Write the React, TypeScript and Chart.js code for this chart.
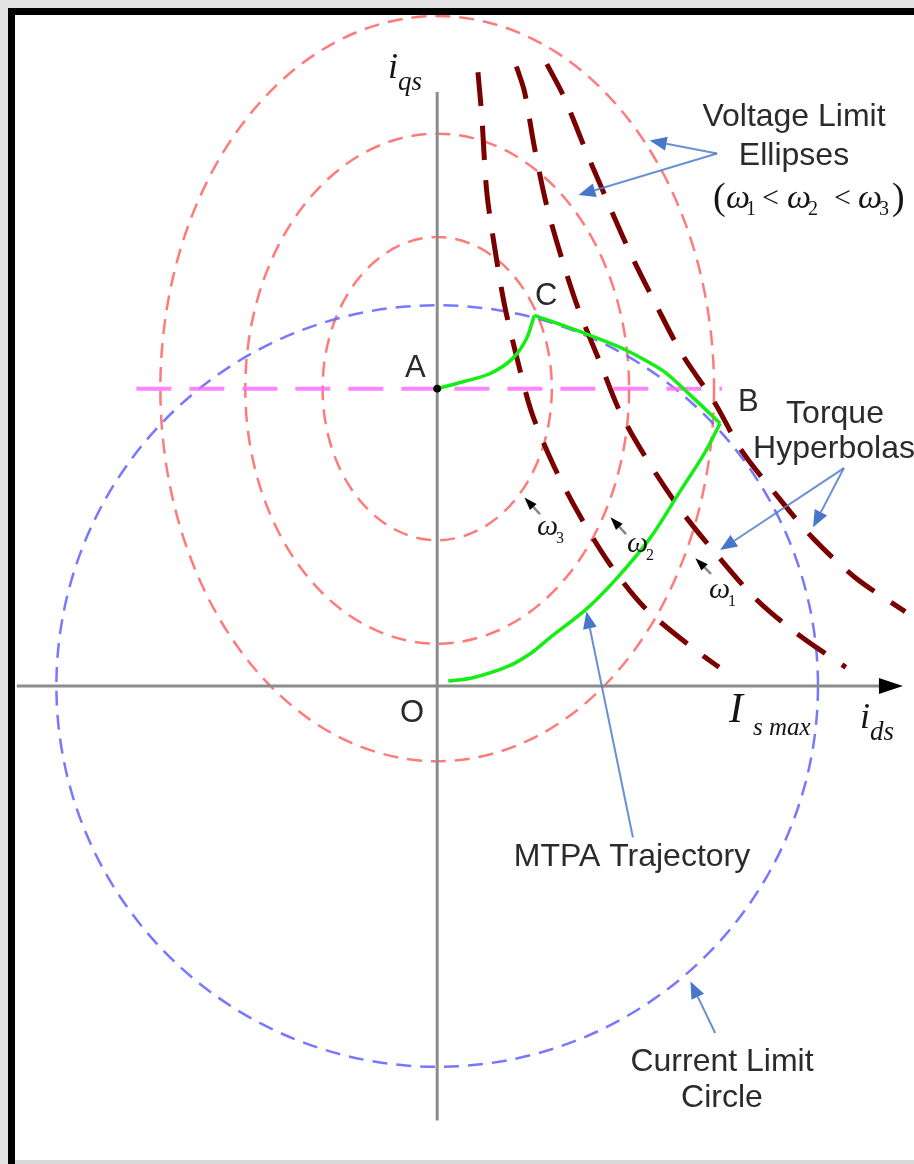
import React, { useEffect, useRef } from 'react';
import { Chart, registerables } from 'chart.js';

Chart.register(...registerables);

// ---------------- Data (units: I_smax = 10) ----------------
const X_MIN = -11.35;
const X_MAX = 12.39;
const Y_MIN = -12.39;
const Y_MAX = 17.84;

// Current limit circle (centred on O)
const CURRENT_LIMIT_RADIUS = 10;

// Voltage limit ellipses, centred on A; order: omega3 (inner), omega2, omega1 (outer)
const ELLIPSE_CENTER_D = 0;
const ELLIPSE_CENTER_Q = 7.79;
const ELLIPSE_SEMI_D = [3.01, 5.04, 7.27];
const ELLIPSE_SEMI_Q = [3.97, 6.68, 9.76];

// Torque hyperbolas
const HYP1_ID = [1.07, 1.17, 1.30, 1.51, 1.77, 2.10, 2.49, 3.06, 3.77, 4.55, 5.45, 6.65, 7.40];
const HYP1_IQ = [16.08, 14.94, 12.96, 11.48, 9.97, 8.57, 7.14, 5.77, 4.42, 3.17, 2.05, 1.04, 0.49];
const HYP2_ID = [2.08, 2.29, 2.55, 2.86, 3.25, 3.71, 4.29, 4.83, 5.58, 6.44, 7.35, 8.39, 9.48, 10.73];
const HYP2_IQ = [16.23, 15.58, 14.13, 12.65, 11.27, 9.87, 8.44, 7.12, 5.82, 4.55, 3.43, 2.26, 1.35, 0.49];
const HYP3_ID = [2.88, 3.33, 3.90, 4.49, 5.09, 5.74, 6.44, 7.27, 8.00, 8.96, 9.87, 10.99, 12.29];
const HYP3_IQ = [16.29, 15.43, 14.03, 12.65, 11.30, 10.00, 8.68, 7.45, 6.16, 4.94, 3.87, 2.83, 1.95];

// MTPA trajectory O -> B
const MTPA_ID = [0.29, 0.91, 1.87, 2.49, 2.94, 3.90, 4.75, 5.61, 6.39, 7.01, 7.43];
const MTPA_IQ = [0.13, 0.21, 0.52, 0.88, 1.25, 2.00, 2.86, 3.90, 5.12, 6.08, 6.88];
// B -> C (along current limit)
const BC_ID = [7.43, 6.83, 5.97, 4.94, 3.79, 2.55];
const BC_IQ = [6.88, 7.45, 8.23, 8.81, 9.27, 9.71];
// C -> A
const CA_ID = [2.55, 2.34, 1.97, 1.38, 0.68, 0];
const CA_IQ = [9.71, 9.09, 8.57, 8.18, 7.97, 7.79];

// Horizontal line through A
const AH_ID = [-7.90, 7.48];
const AH_IQ = [7.79, 7.79];

// Axes
const AXIS_Q_ID = [0, 0];
const AXIS_Q_IQ = [15.56, -11.38];
const AXIS_D_ID = [-11.04, 11.7];
const AXIS_D_IQ = [0, 0];
const AXIS_D_TIP = 12.23;

// Point A
const POINT_A_ID = [0];
const POINT_A_IQ = [7.79];

// Annotation pointers: [tailD, tailQ, headD, headQ]
const VOLTAGE_POINTERS = [
  [7.35, 13.95, 5.58, 14.29],
  [7.35, 13.95, 3.71, 12.86],
];
const TORQUE_POINTERS = [
  [10.68, 5.71, 7.43, 3.56],
  [10.68, 5.71, 9.87, 4.16],
];
const MTPA_POINTER = [5.14, -3.97, 3.92, 1.95];
const CURRENT_POINTER = [7.30, -9.09, 6.65, -7.74];
const OMEGA_POINTERS = [
  [2.70, 4.50, 2.29, 4.94],
  [4.96, 3.98, 4.55, 4.42],
  [7.19, 2.94, 6.78, 3.35],
];
const OMEGA_SUBS = ['3', '2', '1'];

const toPoints = (xs: number[], ys: number[]) => xs.map((v, i) => ({ x: v, y: ys[i] }));

const SANS = "'Liberation Sans', Arial, sans-serif";
const SERIF = "'Liberation Serif', 'Times New Roman', serif";

function drawArrow(ctx: CanvasRenderingContext2D, x1: number, y1: number, x2: number, y2: number,
  color: string, width: number, headLen: number, headW: number, shaftColor?: string) {
  const ang = Math.atan2(y2 - y1, x2 - x1);
  const bx = x2 - headLen * Math.cos(ang);
  const by = y2 - headLen * Math.sin(ang);
  ctx.strokeStyle = shaftColor || color;
  ctx.lineWidth = width;
  ctx.setLineDash([]);
  ctx.beginPath();
  ctx.moveTo(x1, y1);
  ctx.lineTo(bx, by);
  ctx.stroke();
  ctx.fillStyle = color;
  ctx.beginPath();
  ctx.moveTo(x2, y2);
  ctx.lineTo(bx + (headW / 2) * Math.sin(ang), by - (headW / 2) * Math.cos(ang));
  ctx.lineTo(bx - (headW / 2) * Math.sin(ang), by + (headW / 2) * Math.cos(ang));
  ctx.closePath();
  ctx.fill();
}

function txt(ctx: CanvasRenderingContext2D, s: string, x: number, y: number, font: string,
  align: CanvasTextAlign = 'left', color = '#2b2b2b') {
  ctx.font = font;
  ctx.textAlign = align;
  ctx.textBaseline = 'alphabetic';
  ctx.fillStyle = color;
  ctx.fillText(s, x, y);
}

const diagramPlugin = {
  id: 'diagram',
  beforeDraw(chart: any) {
    const { ctx, width, height } = chart;
    ctx.save();
    ctx.fillStyle = '#e3e3e3';
    ctx.fillRect(0, 0, width, height);
    ctx.fillStyle = '#ffffff';
    ctx.fillRect(14, 14, width - 14, height - 18);
    ctx.restore();
  },
  beforeDatasetsDraw(chart: any) {
    const { ctx } = chart;
    const xs = chart.scales.x;
    const ys = chart.scales.y;
    ctx.save();
    const cx = xs.getPixelForValue(ELLIPSE_CENTER_D);
    const cy = ys.getPixelForValue(ELLIPSE_CENTER_Q);
    ctx.lineWidth = 2.5;
    ctx.setLineDash([15, 9]);
    ctx.strokeStyle = 'rgba(255, 100, 100, 0.85)';
    ELLIPSE_SEMI_D.forEach((a, i) => {
      const rx = xs.getPixelForValue(ELLIPSE_CENTER_D + a) - cx;
      const ry = cy - ys.getPixelForValue(ELLIPSE_CENTER_Q + ELLIPSE_SEMI_Q[i]);
      ctx.beginPath();
      ctx.ellipse(cx, cy, rx, ry, 0, 0, Math.PI * 2);
      ctx.stroke();
    });
    const ox = xs.getPixelForValue(0);
    const oy = ys.getPixelForValue(0);
    const r = xs.getPixelForValue(CURRENT_LIMIT_RADIUS) - ox;
    ctx.strokeStyle = 'rgba(105, 105, 255, 0.9)';
    ctx.beginPath();
    ctx.arc(ox, oy, r, 0, Math.PI * 2);
    ctx.stroke();
    ctx.restore();
  },
  afterDatasetsDraw(chart: any) {
    const { ctx, width, height } = chart;
    const xs = chart.scales.x;
    const ys = chart.scales.y;
    const px = (v: number) => xs.getPixelForValue(v);
    const py = (v: number) => ys.getPixelForValue(v);
    ctx.save();

    // x-axis arrow head
    ctx.fillStyle = '#000';
    const tipX = px(AXIS_D_TIP);
    const ay = py(0);
    ctx.beginPath();
    ctx.moveTo(tipX, ay);
    ctx.lineTo(tipX - 24, ay - 8);
    ctx.lineTo(tipX - 24, ay + 8);
    ctx.closePath();
    ctx.fill();

    // blue pointers
    const blue = 'rgb(72, 118, 200)';
    const blueShaft = 'rgba(80, 125, 205, 0.85)';
    [...VOLTAGE_POINTERS, ...TORQUE_POINTERS, MTPA_POINTER, CURRENT_POINTER].forEach((p) => {
      drawArrow(ctx, px(p[0]), py(p[1]), px(p[2]), py(p[3]), blue, 2, 17, 14, blueShaft);
    });

    // omega pointers
    OMEGA_POINTERS.forEach((p) => {
      drawArrow(ctx, px(p[0]), py(p[1]), px(p[2]), py(p[3]), '#000', 2.5, 13, 9, '#888');
    });

    // labels
    const big = `32px ${SANS}`;
    txt(ctx, 'Voltage Limit', 794, 126, big, 'center');
    txt(ctx, 'Ellipses', 794, 165, big, 'center');
    txt(ctx, 'Torque', 835, 423, big, 'center');
    txt(ctx, 'Hyperbolas', 834, 458, big, 'center');
    txt(ctx, 'MTPA Trajectory', 632, 866, big, 'center');
    txt(ctx, 'Current Limit', 722, 1071, big, 'center');
    txt(ctx, 'Circle', 722, 1107, big, 'center');

    const pt = `31px ${SANS}`;
    txt(ctx, 'O', 400, 722, pt);
    txt(ctx, 'A', 405, 377, pt);
    txt(ctx, 'C', 535, 305, pt);
    txt(ctx, 'B', 738, 411, pt);

    const ink = '#151515';
    // axis names
    txt(ctx, 'i', 388, 78, `italic 36px ${SERIF}`, 'left', ink);
    txt(ctx, 'qs', 398, 90, `italic 27px ${SERIF}`, 'left', ink);
    txt(ctx, 'i', 860, 728, `italic 36px ${SERIF}`, 'left', ink);
    txt(ctx, 'ds', 870, 740, `italic 27px ${SERIF}`, 'left', ink);
    txt(ctx, 'I', 729, 722, `italic 42px ${SERIF}`, 'left', ink);
    txt(ctx, 's max', 753, 735, `italic 25px ${SERIF}`, 'left', ink);

    // (w1 < w2 < w3)
    const om = `italic 34px ${SERIF}`;
    const sub = `20px ${SERIF}`;
    txt(ctx, '(', 713, 209, `38px ${SERIF}`, 'left', ink);
    txt(ctx, 'ω', 726, 208, om, 'left', ink);
    txt(ctx, '1', 746, 215, sub, 'left', ink);
    txt(ctx, '<', 762, 207, `30px ${SERIF}`, 'left', ink);
    txt(ctx, 'ω', 787, 208, om, 'left', ink);
    txt(ctx, '2', 808, 215, sub, 'left', ink);
    txt(ctx, '<', 834, 207, `30px ${SERIF}`, 'left', ink);
    txt(ctx, 'ω', 858, 208, om, 'left', ink);
    txt(ctx, '3', 879, 215, sub, 'left', ink);
    txt(ctx, ')', 892, 209, `38px ${SERIF}`, 'left', ink);

    // omega labels near pointers
    const omLabelPos = [[537, 535], [627, 552], [709, 598]];
    omLabelPos.forEach((p, i) => {
      txt(ctx, 'ω', p[0], p[1], `italic 30px ${SERIF}`, 'left', ink);
      txt(ctx, OMEGA_SUBS[i], p[0] + 19, p[1] + 8, `16px ${SERIF}`, 'left', ink);
    });

    // frame
    ctx.fillStyle = '#000';
    ctx.fillRect(8, 8, width - 8, 7);
    ctx.fillRect(8, 8, 7, height - 8);
    ctx.fillStyle = '#dadada';
    ctx.fillRect(15, height - 4, width - 15, 4);
    ctx.restore();
  },
};

const lineDs = (data: any[], color: string, width: number, extra: any = {}) => ({
  data,
  showLine: true,
  borderColor: color,
  backgroundColor: color,
  borderWidth: width,
  pointRadius: 0,
  fill: false,
  ...extra,
});

export default function App() {
  const ref = useRef<HTMLCanvasElement>(null);
  useEffect(() => {
    const canvas = ref.current;
    if (!canvas) return;
    const green = '#14ee14';
    const hypColor = '#7a0000';
    const hypStyle = { borderDash: [34, 20], borderCapStyle: 'butt', tension: 0.3 };
    const chart = new Chart(canvas, {
      type: 'scatter',
      data: {
        datasets: [
          { data: toPoints(POINT_A_ID, POINT_A_IQ), pointRadius: 3.5, backgroundColor: '#000', borderColor: '#000', showLine: false },
          lineDs(toPoints(MTPA_ID, MTPA_IQ), green, 3.5, { tension: 0.3 }),
          lineDs(toPoints(BC_ID, BC_IQ), green, 3.5, { tension: 0.2 }),
          lineDs(toPoints(CA_ID, CA_IQ), green, 3.5, { tension: 0.3 }),
          lineDs(toPoints(HYP1_ID, HYP1_IQ), hypColor, 5, hypStyle),
          lineDs(toPoints(HYP2_ID, HYP2_IQ), hypColor, 5, hypStyle),
          lineDs(toPoints(HYP3_ID, HYP3_IQ), hypColor, 5, hypStyle),
          lineDs(toPoints(AH_ID, AH_IQ), 'rgba(255, 110, 255, 0.85)', 4, { borderDash: [35, 18] }),
          lineDs(toPoints(AXIS_Q_ID, AXIS_Q_IQ), '#8c8c8c', 3),
          lineDs(toPoints(AXIS_D_ID, AXIS_D_IQ), '#8c8c8c', 3),
        ],
      } as any,
      options: {
        responsive: false,
        animation: false,
        devicePixelRatio: 1,
        events: [],
        layout: { padding: 0 },
        plugins: { legend: { display: false }, tooltip: { enabled: false } },
        scales: {
          x: { type: 'linear', min: X_MIN, max: X_MAX, display: false },
          y: { type: 'linear', min: Y_MIN, max: Y_MAX, display: false },
        },
      } as any,
      plugins: [diagramPlugin as any],
    });
    return () => chart.destroy();
  }, []);
  return (
    <div style={{ position: 'absolute', left: 0, top: 0, width: 914, height: 1164 }}>
      <canvas ref={ref} width={914} height={1164} style={{ display: 'block', width: 914, height: 1164 }} />
    </div>
  );
}
